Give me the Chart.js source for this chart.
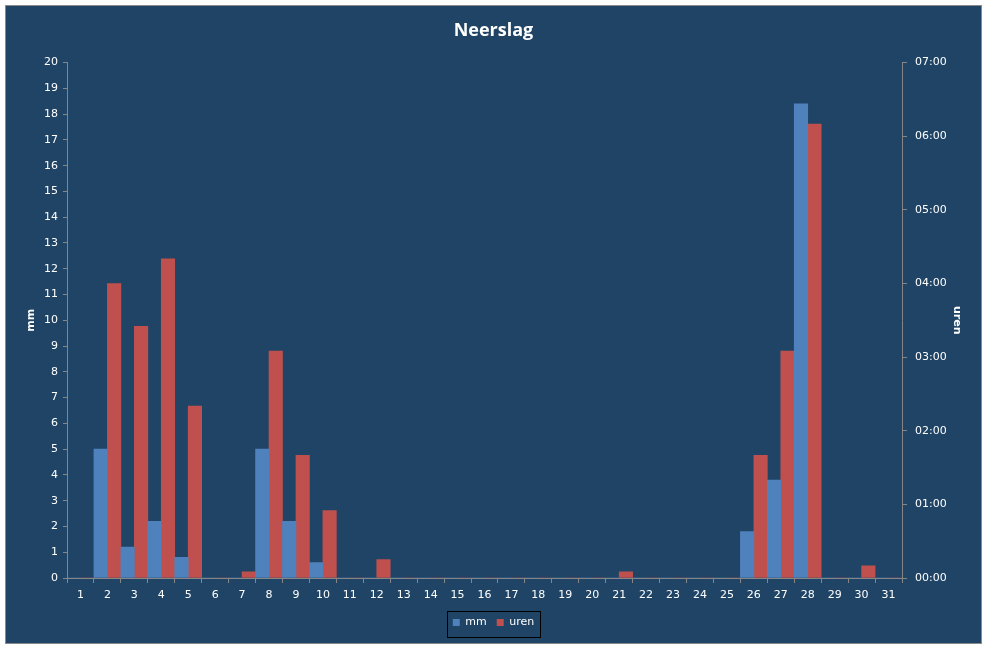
<!DOCTYPE html>
<html lang="nl">
<head>
  <meta charset="UTF-8">
  <title>Neerslag</title>
  <script src="https://cdn.jsdelivr.net/npm/chart.js"></script>
  <style>
    html, body { margin: 0; padding: 0; background: #ffffff; }
    #wrap { width: 987px; height: 648px; }
  </style>
</head>
<body>
  <div id="wrap"><canvas id="neerslagChart" width="987" height="648"></canvas></div>

  <script>
    // dagen van de maand
    const days = ['1','2','3','4','5','6','7','8','9','10','11','12','13','14','15','16',
                  '17','18','19','20','21','22','23','24','25','26','27','28','29','30','31'];

    // neerslag in mm
    const mmValues = [0, 5.0, 1.2, 2.2, 0.8, 0, 0, 5.0, 2.2, 0.6, 0, 0, 0, 0, 0, 0,
                      0, 0, 0, 0, 0, 0, 0, 0, 0, 1.8, 3.8, 18.4, 0, 0, 0];

    // duur van de neerslag in minuten
    const urenMinutes = [0, 240, 205, 260, 140, 0, 5, 185, 100, 55, 0, 15, 0, 0, 0, 0,
                         0, 0, 0, 0, 5, 0, 0, 0, 0, 100, 185, 370, 0, 10, 0];

    const bgColor = '#1F4466';
    const axisColor = '#868686';
    const textColor = '#FFFFFF';

    // achtergrond met rand
    const frame = {
      id: 'frame',
      beforeDraw(chart) {
        const c = chart.ctx;
        c.save();
        c.fillStyle = '#ffffff';
        c.fillRect(0, 0, chart.width, chart.height);
        c.fillStyle = bgColor;
        c.fillRect(5, 5, 977, 639);
        c.strokeStyle = '#8A8A8A';
        c.lineWidth = 1;
        c.strokeRect(5.5, 5.5, 976, 638);
        c.restore();
      }
    };

    // kader rond de legenda
    const legendBox = {
      id: 'legendBox',
      afterDraw(chart) {
        const boxes = chart.legend && chart.legend.legendHitBoxes;
        if (!boxes || !boxes.length) return;
        let l = Infinity, r = -Infinity, t = Infinity, b = -Infinity;
        boxes.forEach(h => {
          l = Math.min(l, h.left); r = Math.max(r, h.left + h.width);
          t = Math.min(t, h.top); b = Math.max(b, h.top + h.height);
        });
        const c = chart.ctx;
        c.save();
        c.strokeStyle = '#000000';
        c.lineWidth = 1;
        c.strokeRect(Math.round(l - 6) + 0.5, Math.round(t - 6) + 0.5,
                     Math.round(r - l + 12), Math.round(b - t + 15));
        c.restore();
      }
    };

    function hhmm(min) {
      const h = Math.floor(min / 60), m = min % 60;
      return String(h).padStart(2, '0') + ':' + String(m).padStart(2, '0');
    }

    const tickFont = { family: 'DejaVu Sans', size: 11 };

    new Chart(document.getElementById('neerslagChart'), {
      type: 'bar',
      data: {
        labels: days,
        datasets: [
          { label: 'mm', data: mmValues, backgroundColor: '#4F81BD', yAxisID: 'y',
            categoryPercentage: 1.0, barPercentage: 1.0 },
          { label: 'uren', data: urenMinutes, backgroundColor: '#C0504D', yAxisID: 'y2',
            categoryPercentage: 1.0, barPercentage: 1.0 }
        ]
      },
      options: {
        responsive: false,
        animation: false,
        layout: { padding: { left: 20, right: 20, top: 0, bottom: 10 } },
        plugins: {
          title: {
            display: true,
            text: 'Neerslag',
            color: textColor,
            font: { family: 'Open Sans', size: 18, weight: 'bold' },
            padding: { top: 20, bottom: 21 }
          },
          legend: {
            position: 'bottom',
            labels: {
              color: textColor,
              font: { family: 'DejaVu Sans', size: 11 },
              boxWidth: 7,
              boxHeight: 7,
              padding: 10
            }
          },
          tooltip: { enabled: false }
        },
        scales: {
          x: {
            grid: { display: true, drawOnChartArea: false, color: axisColor, tickLength: 5, offset: true },
            border: { display: true, color: axisColor },
            ticks: { color: textColor, font: tickFont, padding: 6, maxRotation: 0, autoSkip: false },
            afterFit(scale) { scale.height = 29; }
          },
          y: {
            position: 'left',
            min: 0, max: 20,
            ticks: { stepSize: 1, color: textColor, font: tickFont, padding: 5 },
            grid: { display: true, drawOnChartArea: false, color: axisColor, tickLength: 4 },
            border: { display: true, color: axisColor },
            title: { display: true, text: 'mm', color: textColor,
                     font: { family: 'DejaVu Sans', size: 11, weight: 'bold' }, padding: 5 },
            afterFit(scale) { scale.width = 47; }
          },
          y2: {
            position: 'right',
            min: 0, max: 420,
            ticks: { stepSize: 60, color: textColor, font: tickFont, padding: 8,
                     callback: v => hhmm(v) },
            grid: { display: true, drawOnChartArea: false, color: axisColor, tickLength: 5 },
            border: { display: true, color: axisColor },
            title: { display: true, text: 'uren', color: textColor,
                     font: { family: 'DejaVu Sans', size: 11, weight: 'bold' }, padding: 4 },
            afterFit(scale) { scale.width = 65; }
          }
        }
      },
      plugins: [frame, legendBox]
    });
  </script>
</body>
</html>
